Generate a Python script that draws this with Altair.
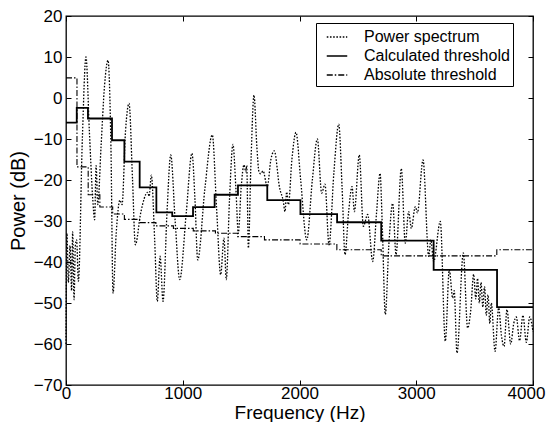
import altair as alt
import pandas as pd

# ---- data ----
power_freq = [0, 8, 20, 35, 48, 57, 69, 80, 91, 106, 140, 171, 200, 230, 245, 258, 272, 300, 330, 360,
              385, 403, 430, 462, 480, 510, 540, 570, 594, 640, 700, 712, 731, 760, 782, 806, 831, 865,
              897, 935, 974, 1030, 1079, 1105, 1128, 1190, 1253, 1290, 1325, 1353, 1373, 1400, 1430,
              1455, 1476, 1500, 1525, 1540, 1548, 1562, 1585, 1610, 1635, 1653, 1668, 1688, 1724, 1755,
              1784, 1830, 1860, 1876, 1890, 1905, 1935, 1970, 2010, 2062, 2110, 2153, 2190, 2218, 2253,
              2295, 2336, 2365, 2390, 2420, 2450, 2470, 2512, 2547, 2584, 2627, 2660, 2690, 2710, 2735,
              2765, 2798, 2827, 2872, 2906, 2935, 2958, 2992, 3010, 3058, 3107, 3125, 3149, 3206, 3249,
              3283, 3312, 3325, 3349, 3403, 3440, 3466, 3492, 3510, 3525, 3540, 3555, 3570, 3585, 3600,
              3615, 3630, 3643, 3675, 3706, 3730, 3752, 3777, 3809, 3835, 3857, 3885, 3914, 3943, 3972,
              4000]
power_db = [-60, -33, -45, -36, -47, -32.6, -49.2, -36, -34.6, -44.7, -10, 10.0, -8, -25, -29.7, -16.5,
            -26, -12, 3, 9.2, -12, -47.6, -33, -24.9, -26, -8, -1.3, -20, -35.8, -28, -23, -24, -18.8,
            -35, -49.6, -38.6, -49.6, -28, -13.9, -30, -44.3, -28, -13.5, -25, -39.5, -22, -9.0, -27,
            -43.1, -34.2, -44.3, -25, -11.3, -22, -33.0, -22, -16.3, -18, -16.5, -36.6, -15, 0.7, -12,
            -18.0, -18.5, -17.8, -21.6, -15, -12.9, -22, -25, -27.7, -22.9, -26, -15, -8.4, -20, -34.6,
            -20, -10.0, -23.2, -21, -35.8, -18, -6.4, -22, -38.2, -28, -21.6, -27.7, -13.9, -31.3,
            -28.4, -39.9, -28, -18.4, -32, -52.8, -36, -25.7, -38.2, -17.2, -35.4, -27.7, -31.8, -26.5,
            -28, -15.1, -38.6, -34.6, -39.9, -30.1, -59.3, -41.9, -48.8, -47, -62.2, -37.8, -56.1, -52,
            -43, -49, -44, -50, -45, -51, -46, -53, -48, -55, -50, -61.8, -51.2, -58, -60.6, -51.6, -60,
            -55, -53.4, -59.2, -53, -59.6, -53.4, -57]

calc_freq = [0, 92, 188, 394, 500, 631, 774, 910, 1088, 1273, 1473, 1724, 2008, 2322, 2700, 3149, 3692, 4000]
calc_db = [-6.0, -2.4, -5.0, -10.3, -15.5, -21.8, -27.9, -28.8, -26.6, -23.6, -21.3, -24.9, -28.3,
           -30.3, -34.8, -41.9, -51.0, -51.0]

abs_freq = [0, 94, 190, 290, 400, 500, 630, 770, 920, 1090, 1280, 1470, 1700, 2005, 2320, 2700, 3690, 4000]
abs_db = [4.9, -16.8, -23.6, -26.6, -28.3, -29.6, -30.4, -31.2, -31.8, -32.4, -33.0, -33.8, -34.6,
          -35.6, -37.0, -38.5, -37.0, -37.0]

series_names = ["Power spectrum", "Calculated threshold", "Absolute threshold"]
x_ticks = [0, 1000, 2000, 3000, 4000]
y_ticks = [20, 10, 0, -10, -20, -30, -40, -50, -60, -70]

FONT = "Liberation Sans"

df_p = pd.DataFrame({"f": power_freq, "db": power_db, "series": series_names[0]})
df_c = pd.DataFrame({"f": calc_freq, "db": calc_db, "series": series_names[1]})
df_a = pd.DataFrame({"f": abs_freq, "db": abs_db, "series": series_names[2]})

xscale = alt.Scale(domain=[0, 4000], nice=False, zero=False)
yscale = alt.Scale(domain=[-70, 20], nice=False, zero=False)

dash = alt.StrokeDash(
    "series:N",
    scale=alt.Scale(domain=series_names, range=[[1.6, 1.6], [1, 0], [6, 2, 1.5, 2]]),
    legend=alt.Legend(
        title=None, orient="none", legendX=250, legendY=7,
        symbolType="stroke", symbolSize=420, symbolStrokeColor="black", symbolStrokeWidth=1.3,
        symbolOffset=7,
        labelFont=FONT, labelFontSize=16, labelColor="black", labelOffset=16,
        rowPadding=0, padding=3, strokeColor="black", fillColor="white",
        labelLimit=300,
    ),
)

common_axis = dict(grid=False, domain=False, tickSize=5, offset=-5, tickColor="black",
                   labelFont=FONT, labelColor="black", titleFont=FONT, titleColor="black",
                   titleFontWeight="normal", labelFlush=False)

x_bottom = alt.X("f:Q", scale=xscale, axis=alt.Axis(
    orient="bottom", values=x_ticks, format="d", title="Frequency (Hz)", labelFontSize=17,
    titleFontSize=19, labelPadding=0, titleBaseline="alphabetic", titleY=38,
    labelOffset=alt.condition("datum.value == 4000", alt.value(-7), alt.value(0)),
    **common_axis))
y_left = alt.Y("db:Q", scale=yscale, axis=alt.Axis(
    orient="left", values=y_ticks, format="d", title="Power (dB)", labelFontSize=17, titleFontSize=20,
    labelPadding=4, titlePadding=5, **common_axis))
x_top = alt.X("f:Q", scale=xscale, axis=alt.Axis(
    orient="top", values=x_ticks, title=None, labels=False, **common_axis))
y_right = alt.Y("db:Q", scale=yscale, axis=alt.Axis(
    orient="right", values=y_ticks, title=None, labels=False, **common_axis))

power = alt.Chart(df_p).mark_line(color="black", strokeWidth=1.3, interpolate="monotone").encode(
    x=x_bottom, y=y_left, strokeDash=dash)
calc = alt.Chart(df_c).mark_line(color="black", strokeWidth=1.8, interpolate="step-after").encode(
    x=x_top, y=y_right, strokeDash=dash)
absl = alt.Chart(df_a).mark_line(color="black", strokeWidth=1.1, interpolate="step-after").encode(
    x=alt.X("f:Q", scale=xscale, axis=None), y=alt.Y("db:Q", scale=yscale, axis=None), strokeDash=dash)

chart = (
    alt.layer(power, calc, absl)
    .resolve_axis(x="independent", y="independent")
    .properties(width=467, height=369,
                autosize=alt.AutoSizeParams(type="none"),
                padding={"left": 58, "top": 8, "right": 14, "bottom": 37},
                background="white")
    .configure_view(stroke="black", strokeWidth=1.3)
)

chart.save("out.html", embed_options={"renderer": "svg", "actions": False})
